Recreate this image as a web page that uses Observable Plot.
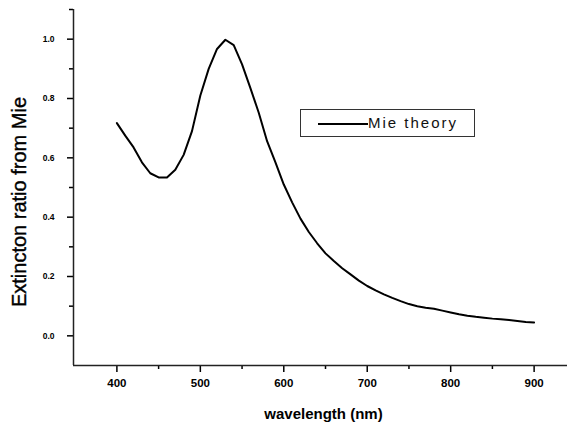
<!DOCTYPE html>
<html>
<head>
<meta charset="utf-8">
<script src="https://cdn.jsdelivr.net/npm/d3@7"></script>
<script src="https://cdn.jsdelivr.net/npm/@observablehq/plot@0.6"></script>
<style>
  html, body { margin: 0; padding: 0; background: #fff; }
  #wrap { position: relative; width: 567px; height: 423px; font-family: "Liberation Sans", Arial, sans-serif; }
  #legend { position: absolute; left: 300px; top: 109px; width: 175px; height: 28px; border: 1px solid #333; background: #fff; box-sizing: border-box; }
  #legend .sw { position: absolute; left: 17px; top: 13px; width: 50px; height: 0; border-top: 2px solid #000; }
  #legend .lb { position: absolute; left: 67px; top: 5px; font-size: 15px; letter-spacing: 2px; color: #111; line-height: 16px; }
  #ytitle { position: absolute; left: 19px; top: 202px; transform: translate(-50%, -50%) rotate(-90deg); white-space: nowrap; font-size: 20px; color: #000; line-height: 20px; -webkit-text-stroke: 0.4px #000; }
</style>
</head>
<body>
<div id="wrap"></div>
<script>
const wavelength = [400,410,420,430,440,450,460,470,480,490,500,510,520,530,540,550,560,570,580,590,600,610,620,630,640,650,660,670,680,690,700,710,720,730,740,750,760,770,780,790,800,810,820,830,840,850,860,870,880,890,900];
const extinction = [0.717,0.675,0.635,0.585,0.548,0.534,0.534,0.56,0.61,0.69,0.81,0.90,0.967,0.998,0.98,0.915,0.835,0.752,0.656,0.585,0.51,0.45,0.395,0.35,0.312,0.278,0.252,0.228,0.207,0.186,0.168,0.153,0.14,0.128,0.117,0.107,0.100,0.095,0.091,0.085,0.079,0.073,0.068,0.064,0.061,0.058,0.056,0.053,0.05,0.047,0.045];
const xTicks = [400,500,600,700,800,900];
const xMinor = [450,550,650,750,850];
const yTicks = [0.0,0.2,0.4,0.6,0.8,1.0];
const yMinor = [0.1,0.3,0.5,0.7,0.9,1.1];
const xTitle = "wavelength (nm)";
const yTitle = "Extincton ratio from Mie";
const legendLabel = "Mie theory";

const data = wavelength.map((w, i) => ({w, v: extinction[i]}));

const chart = Plot.plot({
  width: 567,
  height: 423,
  marginLeft: 73,
  marginRight: 0,
  marginTop: 9,
  marginBottom: 58,
  style: {fontFamily: "'Liberation Sans', Arial, sans-serif", background: "#fff", color: "#000", overflow: "visible"},
  x: {domain: [348, 940]},
  y: {domain: [-0.1, 1.1]},
  marks: [
    Plot.axisX({ticks: xTicks, tickSize: 7, tickPadding: 6, tickFormat: d3.format("d"), label: null,
      fontSize: 11.5, fontWeight: "bold", style: {letterSpacing: "1px"}, strokeWidth: 1.5}),
    Plot.axisX({ticks: xMinor, tickSize: 4, text: null, label: null, strokeWidth: 1.5}),
    Plot.axisY({ticks: yTicks, tickSize: 6, tickPadding: 13, tickFormat: d3.format(".1f"), label: null,
      fontSize: 8.5, fontWeight: "bold", strokeWidth: 1.5}),
    Plot.axisY({ticks: yMinor, tickSize: 4, text: null, label: null, strokeWidth: 1.5}),
    Plot.ruleY([-0.1], {stroke: "#222", strokeWidth: 1.5}),
    Plot.ruleX([348], {stroke: "#222", strokeWidth: 1.5}),
    Plot.line(data, {x: "w", y: "v", stroke: "#000", strokeWidth: 2}),
    Plot.text([xTitle], {frameAnchor: "bottom", lineAnchor: "middle", dy: 49, dx: 3, fontSize: 15, fontWeight: "bold", fill: "#000", style: {letterSpacing: "1.4px"}})
  ]
});

const wrap = document.getElementById("wrap");
wrap.appendChild(chart);
const yt = document.createElement("div");
yt.id = "ytitle";
yt.textContent = yTitle;
wrap.appendChild(yt);
const lg = document.createElement("div");
lg.id = "legend";
lg.innerHTML = '<div class="sw"></div><div class="lb"></div>';
lg.querySelector(".lb").textContent = legendLabel;
wrap.appendChild(lg);
</script>
</body>
</html>
